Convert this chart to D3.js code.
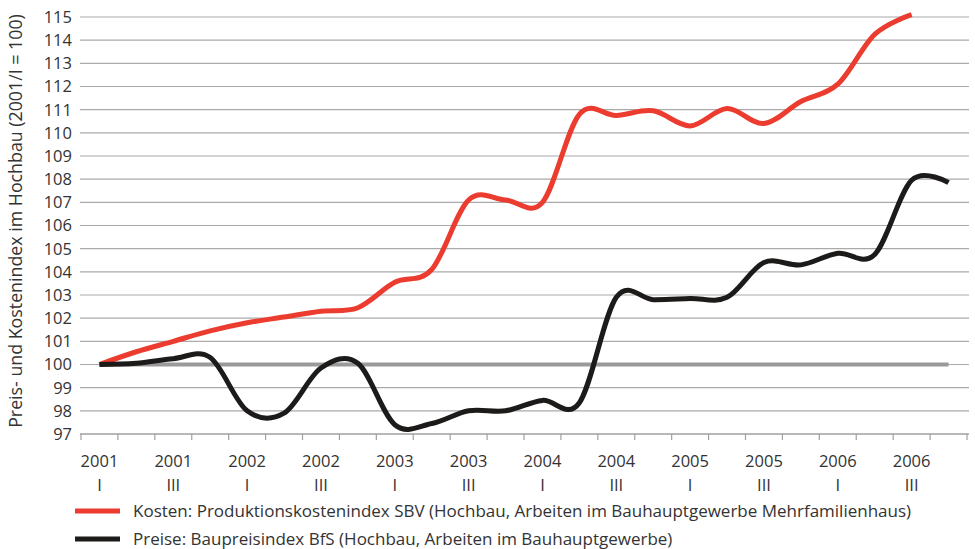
<!DOCTYPE html>
<html lang="de">
<head>
  <meta charset="UTF-8" />
  <title>Preis- und Kostenindex im Hochbau</title>
  <script src="https://d3js.org/d3.v7.min.js"></script>
  <style>
    body { margin: 0; background: #fff; }
    svg { display: block; font-family: "Open Sans", sans-serif; }
  </style>
</head>
<body>
  <svg width="975" height="549"></svg>
  <script>
    // quarters 2001 I .. 2006 IV
    const years = ["2001","2001","2001","2001","2002","2002","2002","2002",
                   "2003","2003","2003","2003","2004","2004","2004","2004",
                   "2005","2005","2005","2005","2006","2006","2006","2006"];
    const quarters = ["I","II","III","IV","I","II","III","IV",
                      "I","II","III","IV","I","II","III","IV",
                      "I","II","III","IV","I","II","III","IV"];
    const categories = years.map((y, i) => y + " " + quarters[i]);

    // Kosten: Produktionskostenindex SBV (ends 2006 III)
    const kosten = [100.0, 100.55, 101.0, 101.45, 101.8, 102.05, 102.3, 102.45,
                    103.55, 104.1, 107.1, 107.1, 107.0, 110.8, 110.75, 110.95,
                    110.3, 111.05, 110.4, 111.35, 112.1, 114.25, 115.1];
    // Preise: Baupreisindex BfS
    const preise = [100.0, 100.05, 100.25, 100.3, 98.0, 97.9, 99.85, 100.05,
                    97.4, 97.45, 98.0, 98.0, 98.45, 98.35, 102.9, 102.8,
                    102.85, 102.9, 104.4, 104.3, 104.8, 104.75, 107.95, 107.85];
    // Basis 2001/I = 100
    const basis = categories.map(() => 100);

    const yTicks = d3.range(97, 116);
    const legendLabels = [
      "Kosten: Produktionskostenindex SBV (Hochbau, Arbeiten im Bauhauptgewerbe Mehrfamilienhaus)",
      "Preise: Baupreisindex BfS (Hochbau, Arbeiten im Bauhauptgewerbe)"
    ];

    const svg = d3.select("svg");
    const textColor = "#333";

    const x = d3.scaleBand().domain(categories).range([81, 967]);
    const y = d3.scaleLinear().domain([97, 115]).range([434, 17]);
    const cx = i => x(categories[i]) + x.bandwidth() / 2;

    // gridlines
    svg.append("g")
      .selectAll("line")
      .data(yTicks.filter(d => d > 97))
      .join("line")
      .attr("x1", 80).attr("x2", 969)
      .attr("y1", d => y(d)).attr("y2", d => y(d))
      .attr("stroke", "#aaa")
      .attr("stroke-width", 1.2);

    // y labels
    svg.append("g")
      .selectAll("text")
      .data(yTicks)
      .join("text")
      .attr("x", 72)
      .attr("y", d => y(d))
      .attr("dy", "0.36em")
      .attr("text-anchor", "end")
      .attr("font-size", 16.5)
      .attr("fill", textColor)
      .text(d => d);

    // x axis line + ticks
    const axisY = y(97);
    svg.append("line")
      .attr("x1", 80).attr("x2", 969)
      .attr("y1", axisY).attr("y2", axisY)
      .attr("stroke", "#a0a0a0").attr("stroke-width", 1.5);

    const tickPos = categories.map(c => x(c)).concat([x.range()[1]]);
    svg.append("g")
      .selectAll("line")
      .data(tickPos)
      .join("line")
      .attr("x1", d => d).attr("x2", d => d)
      .attr("y1", axisY).attr("y2", axisY + 6)
      .attr("stroke", "#a0a0a0").attr("stroke-width", 1.2);

    // x labels (every second quarter)
    const xl = svg.append("g")
      .selectAll("g")
      .data(categories.map((c, i) => i).filter(i => i % 2 === 0))
      .join("g")
      .attr("transform", i => `translate(${cx(i)},0)`);
    xl.append("text")
      .attr("y", 467)
      .attr("text-anchor", "middle")
      .attr("font-size", 16.5)
      .attr("fill", textColor)
      .text(i => years[i]);
    xl.append("text")
      .attr("y", 491)
      .attr("text-anchor", "middle")
      .attr("font-size", 16.5)
      .attr("fill", textColor)
      .text(i => quarters[i]);

    // y axis title
    svg.append("text")
      .attr("transform", `translate(22,${(12 + 430) / 2}) rotate(-90)`)
      .attr("text-anchor", "middle")
      .attr("font-size", 17.8)
      .attr("fill", textColor)
      .text("Preis- und Kostenindex im Hochbau (2001/I = 100)");

    const line = d3.line()
      .x((d, i) => cx(i))
      .y(d => y(d))
      .curve(d3.curveCardinal.tension(0));

    svg.append("path")
      .attr("d", line(basis))
      .attr("fill", "none")
      .attr("stroke", "#9a9a9a")
      .attr("stroke-width", 4);

    svg.append("path")
      .attr("d", line(kosten))
      .attr("fill", "none")
      .attr("stroke", "#ec3b2f")
      .attr("stroke-width", 5);

    svg.append("path")
      .attr("d", line(preise))
      .attr("fill", "none")
      .attr("stroke", "#1d1a1a")
      .attr("stroke-width", 5);

    // legend
    const legendColors = ["#ec3b2f", "#1d1a1a"];
    const lg = svg.append("g")
      .selectAll("g")
      .data(legendLabels)
      .join("g")
      .attr("transform", (d, i) => `translate(75,${511 + i * 28})`);
    lg.append("line")
      .attr("x1", 0).attr("x2", 45)
      .attr("stroke", (d, i) => legendColors[i])
      .attr("stroke-width", 5);
    lg.append("text")
      .attr("x", 58)
      .attr("dy", "0.36em")
      .attr("font-size", 17)
      .attr("fill", textColor)
      .text(d => d);
  </script>
</body>
</html>
